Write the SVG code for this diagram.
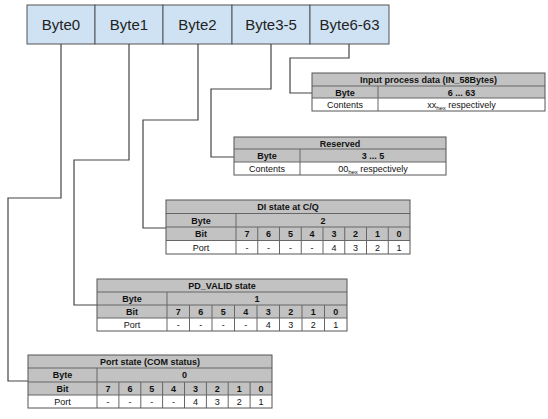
<svg xmlns="http://www.w3.org/2000/svg" width="548" height="419" viewBox="0 0 548 419">
<style>
.box{fill:#cfe2f3;stroke:#555;stroke-width:1}
.bt{font-family:"Liberation Sans",Arial,sans-serif;font-size:15px;fill:#222;text-anchor:middle}
.h{fill:#c2c2c2}
.w{fill:#fff}
.tb{fill:none;stroke:#555;stroke-width:1}
.ln{stroke:#666;stroke-width:1;fill:none}
.t{font-family:"Liberation Sans",Arial,sans-serif;font-size:9px;fill:#111;text-anchor:middle}
.b{font-weight:bold}
.con{fill:none;stroke:#444;stroke-width:1.2}
</style>
<g id="bytes">
<rect class="box" x="27" y="5" width="68" height="39"/>
<rect class="box" x="95" y="5" width="68" height="39"/>
<rect class="box" x="163" y="5" width="69" height="39"/>
<rect class="box" x="232" y="5" width="78" height="39"/>
<rect class="box" x="310" y="5" width="79" height="39"/>
<text class="bt" x="61" y="30">Byte0</text>
<text class="bt" x="129" y="30">Byte1</text>
<text class="bt" x="197.5" y="30">Byte2</text>
<text class="bt" x="271" y="30">Byte3-5</text>
<text class="bt" x="349.5" y="30">Byte6-63</text>
</g>
<g id="connectors">
<polyline class="con" points="61,44 61,198 8,198 8,381 28,381"/>
<polyline class="con" points="129,44 129,160 74,160 74,305 97,305"/>
<polyline class="con" points="198,44 198,120 143,120 143,228 166,228"/>
<polyline class="con" points="271,44 271,89 211,89 211,157 234,157"/>
<polyline class="con" points="349,44 349,58 290,58 290,93 312,93"/>
</g>
<g id="input-table">
<rect class="h" x="312" y="73" width="233" height="25"/>
<rect class="w" x="312" y="98" width="233" height="13"/>
<path class="ln" d="M312,86H545M312,98H545M378,86V111"/>
<rect class="tb" x="312" y="73" width="233" height="38"/>
<text class="t b" x="428.5" y="83">Input process data (IN_58Bytes)</text>
<text class="t b" x="345" y="95.5">Byte</text>
<text class="t b" x="461.5" y="95.5">6 ... 63</text>
<text class="t" x="345" y="108">Contents</text>
<text class="t" x="461.5" y="108">xx<tspan font-size="6" dy="2">hex</tspan><tspan dy="-2"> respectively</tspan></text>
</g>
<g id="reserved-table">
<rect class="h" x="234" y="137" width="212" height="25"/>
<rect class="w" x="234" y="162" width="212" height="13"/>
<path class="ln" d="M234,149H446M234,162H446M300,149V175"/>
<rect class="tb" x="234" y="137" width="212" height="38"/>
<text class="t b" x="340" y="146.5">Reserved</text>
<text class="t b" x="267" y="159">Byte</text>
<text class="t b" x="373" y="159">3 ... 5</text>
<text class="t" x="267" y="172">Contents</text>
<text class="t" x="373" y="172">00<tspan font-size="6" dy="2">hex</tspan><tspan dy="-2"> respectively</tspan></text>
</g>
<g id="di-table">
<rect class="h" x="166" y="200" width="244" height="40.5"/>
<rect class="w" x="166" y="240.5" width="244" height="13.5"/>
<path class="ln" d="M166,213.5H410M166,227H410M166,240.5H410M236,213.5V254M257.75,227V254M279.5,227V254M301.25,227V254M323,227V254M344.75,227V254M366.5,227V254M388.25,227V254"/>
<rect class="tb" x="166" y="200" width="244" height="54"/>
<text class="t b" x="288" y="210">DI state at C/Q</text>
<text class="t b" x="201" y="223.5">Byte</text>
<text class="t b" x="323" y="223.5">2</text>
<text class="t b" x="201" y="237">Bit</text>
<text class="t b" x="246.9" y="237">7</text><text class="t b" x="268.6" y="237">6</text><text class="t b" x="290.4" y="237">5</text><text class="t b" x="312.1" y="237">4</text><text class="t b" x="333.9" y="237">3</text><text class="t b" x="355.6" y="237">2</text><text class="t b" x="377.4" y="237">1</text><text class="t b" x="399.1" y="237">0</text>
<text class="t" x="201" y="250.5">Port</text>
<text class="t" x="246.9" y="250.5">-</text><text class="t" x="268.6" y="250.5">-</text><text class="t" x="290.4" y="250.5">-</text><text class="t" x="312.1" y="250.5">-</text><text class="t" x="333.9" y="250.5">4</text><text class="t" x="355.6" y="250.5">3</text><text class="t" x="377.4" y="250.5">2</text><text class="t" x="399.1" y="250.5">1</text>
</g>
<g id="pdvalid-table">
<rect class="h" x="97" y="279" width="250" height="39"/>
<rect class="w" x="97" y="318" width="250" height="13"/>
<path class="ln" d="M97,292H347M97,305H347M97,318H347M167,292V331M189.5,305V331M212,305V331M234.5,305V331M257,305V331M279.5,305V331M302,305V331M324.5,305V331"/>
<rect class="tb" x="97" y="279" width="250" height="52"/>
<text class="t b" x="222" y="288.5">PD_VALID state</text>
<text class="t b" x="132" y="301.5">Byte</text>
<text class="t b" x="257" y="301.5">1</text>
<text class="t b" x="132" y="314.5">Bit</text>
<text class="t b" x="178.25" y="314.5">7</text><text class="t b" x="200.75" y="314.5">6</text><text class="t b" x="223.25" y="314.5">5</text><text class="t b" x="245.75" y="314.5">4</text><text class="t b" x="268.25" y="314.5">3</text><text class="t b" x="290.75" y="314.5">2</text><text class="t b" x="313.25" y="314.5">1</text><text class="t b" x="335.75" y="314.5">0</text>
<text class="t" x="132" y="327.5">Port</text>
<text class="t" x="178.25" y="327.5">-</text><text class="t" x="200.75" y="327.5">-</text><text class="t" x="223.25" y="327.5">-</text><text class="t" x="245.75" y="327.5">-</text><text class="t" x="268.25" y="327.5">4</text><text class="t" x="290.75" y="327.5">3</text><text class="t" x="313.25" y="327.5">2</text><text class="t" x="335.75" y="327.5">1</text>
</g>
<g id="portstate-table">
<rect class="h" x="28" y="355" width="244" height="40"/>
<rect class="w" x="28" y="395" width="244" height="13"/>
<path class="ln" d="M28,368H272M28,382H272M28,395H272M97,368V408M118.9,382V408M140.8,382V408M162.6,382V408M184.5,382V408M206.4,382V408M228.2,382V408M250.1,382V408"/>
<rect class="tb" x="28" y="355" width="244" height="53"/>
<text class="t b" x="150" y="364.5">Port state (COM status)</text>
<text class="t b" x="62.5" y="378">Byte</text>
<text class="t b" x="184.5" y="378">0</text>
<text class="t b" x="62.5" y="391.5">Bit</text>
<text class="t b" x="108" y="391.5">7</text><text class="t b" x="129.9" y="391.5">6</text><text class="t b" x="151.7" y="391.5">5</text><text class="t b" x="173.6" y="391.5">4</text><text class="t b" x="195.5" y="391.5">3</text><text class="t b" x="217.3" y="391.5">2</text><text class="t b" x="239.2" y="391.5">1</text><text class="t b" x="261" y="391.5">0</text>
<text class="t" x="62.5" y="404.5">Port</text>
<text class="t" x="108" y="404.5">-</text><text class="t" x="129.9" y="404.5">-</text><text class="t" x="151.7" y="404.5">-</text><text class="t" x="173.6" y="404.5">-</text><text class="t" x="195.5" y="404.5">4</text><text class="t" x="217.3" y="404.5">3</text><text class="t" x="239.2" y="404.5">2</text><text class="t" x="261" y="404.5">1</text>
</g>
</svg>
